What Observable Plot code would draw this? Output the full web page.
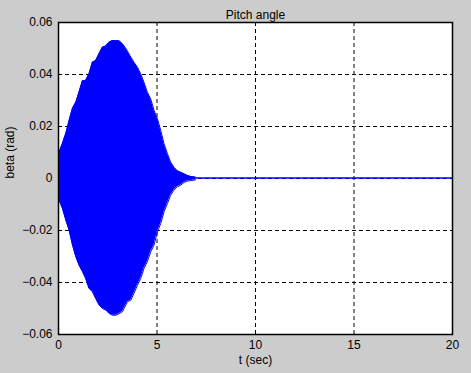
<!DOCTYPE html>
<html>
<head>
<meta charset="utf-8">
<script src="https://cdn.jsdelivr.net/npm/d3@7"></script>
<script src="https://cdn.jsdelivr.net/npm/@observablehq/plot@0.6"></script>
<style>
  html, body { margin: 0; padding: 0; background: #cccccc; }
</style>
</head>
<body>
<div id="chart"></div>
<script>
// Envelope of the oscillating pitch-angle signal
const envT = [0, 0.03, 0.20, 0.37, 0.54, 0.71, 0.88, 1.04, 1.22, 1.38, 1.55, 1.72, 1.89, 2.06, 2.23, 2.40, 2.57, 2.74, 2.91, 3.07, 3.25, 3.33, 3.50, 3.67, 3.83, 4.01, 4.17, 4.34, 4.51, 4.68, 4.85, 5.02, 5.19, 5.36, 5.53, 5.69, 5.86, 6.03, 6.20, 6.37, 6.54, 6.71, 6.96];
const envUpper = [0.0095, 0.0101, 0.0135, 0.0173, 0.0223, 0.0270, 0.0293, 0.0332, 0.0377, 0.0377, 0.0403, 0.0447, 0.0454, 0.0480, 0.0505, 0.0510, 0.0524, 0.0531, 0.0530, 0.0530, 0.0518, 0.0510, 0.0490, 0.0467, 0.0447, 0.0428, 0.0403, 0.0370, 0.0332, 0.0306, 0.0262, 0.0230, 0.0185, 0.0133, 0.0095, 0.0063, 0.0043, 0.0030, 0.0024, 0.0018, 0.0012, 0.0008, 0.0005];
const envLower = [-0.0077, -0.0083, -0.0115, -0.0160, -0.0199, -0.0256, -0.0301, -0.0333, -0.0359, -0.0385, -0.0423, -0.0435, -0.0462, -0.0487, -0.0500, -0.0506, -0.0519, -0.0526, -0.0526, -0.0520, -0.0512, -0.0500, -0.0474, -0.0468, -0.0442, -0.0410, -0.0385, -0.0346, -0.0320, -0.0282, -0.0256, -0.0205, -0.0173, -0.0128, -0.0096, -0.0064, -0.0045, -0.0032, -0.0026, -0.0015, -0.0010, -0.0008, -0.0005];
// Residual (near-zero) tail of the signal
const tailT = [6.96, 20];
const tailV = [0.0002, 0.0002];

const xTicks = [0, 5, 10, 15, 20];
const yTicks = [-0.06, -0.04, -0.02, 0, 0.02, 0.04, 0.06];
const xGrid = [5, 10, 15];
const yGrid = [-0.04, -0.02, 0, 0.02, 0.04];
const titleText = "Pitch angle";
const xLabel = "t (sec)";
const yLabel = "beta (rad)";

const env = envT.map((t, i) => ({t, hi: envUpper[i], lo: envLower[i]}));
const tail = tailT.map((t, i) => ({t, v: tailV[i]}));

const fmtY = d => d === 0 ? "0" : (d < 0 ? "\u2212" : "") + Math.abs(d).toFixed(2);

const chart = Plot.plot({
  width: 471,
  height: 373,
  marginLeft: 58,
  marginRight: 19,
  marginTop: 22,
  marginBottom: 39,
  style: {background: "#cccccc", fontSize: "12px", fontFamily: "'Liberation Sans', Arial, sans-serif", color: "black"},
  x: {domain: [0, 20]},
  y: {domain: [-0.06, 0.06]},
  marks: [
    Plot.frame({fill: "white", stroke: "none"}),
    Plot.ruleX(xGrid, {stroke: "black", strokeDasharray: "4,3", strokeWidth: 1}),
    Plot.ruleY(yGrid, {stroke: "black", strokeDasharray: "4,3", strokeWidth: 1}),
    Plot.areaY(env, {x: "t", y1: "lo", y2: "hi", fill: "#0000ff", curve: "linear"}),
    Plot.line(env, {x: "t", y: "hi", stroke: "#0000ff", strokeWidth: 1}),
    Plot.line(env, {x: "t", y: "lo", stroke: "#0000ff", strokeWidth: 1}),
    Plot.line(tail, {x: "t", y: "v", stroke: "#0000ff", strokeWidth: 1.5}),
    Plot.frame({stroke: "black", strokeWidth: 1.5}),
    Plot.axisX({ticks: xTicks, tickSize: 0, tickPadding: 6, label: null, tickFormat: d => String(d)}),
    Plot.axisY({ticks: yTicks, tickSize: 0, tickPadding: 6, label: null, tickFormat: fmtY}),
    Plot.text([titleText], {frameAnchor: "top", dy: -12, fontSize: 12, fill: "black"}),
    Plot.text([xLabel], {frameAnchor: "bottom", dy: 29, fontSize: 12, fill: "black"}),
    Plot.text([yLabel], {frameAnchor: "left", dx: -48, rotate: -90, fontSize: 12, fill: "black"})
  ]
});
document.getElementById("chart").appendChild(chart);
</script>
</body>
</html>
